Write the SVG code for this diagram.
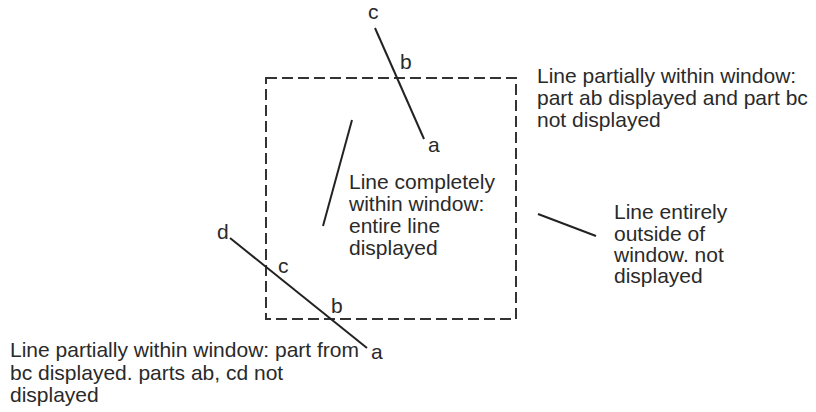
<svg xmlns="http://www.w3.org/2000/svg" width="816" height="412" viewBox="0 0 816 412">
<style>
text{font-family:"Liberation Sans",Arial,sans-serif;font-size:21px;fill:#2a2a2a}
.seg{stroke:#222;stroke-width:2;fill:none}
.win{stroke:#333;stroke-width:2;fill:none;stroke-dasharray:11 5}
</style>
<rect width="816" height="412" fill="#fff"/>
<g id="window"><rect class="win" x="266" y="78" width="250" height="241"/></g>
<g id="connectors">
<line class="seg" x1="375" y1="28" x2="424" y2="139"/>
<line class="seg" x1="352" y1="120" x2="323" y2="226"/>
<line class="seg" x1="230" y1="238" x2="367" y2="348"/>
<line class="seg" x1="538" y1="214" x2="596" y2="236"/>
</g>
<g id="labels">
<text x="368" y="19">c</text>
<text x="400" y="69">b</text>
<text x="428" y="152">a</text>
<text x="217" y="239">d</text>
<text x="278" y="273">c</text>
<text x="331" y="313">b</text>
<text x="371" y="359">a</text>
</g>
<g id="note-top">
<text x="537" y="83">Line partially within window:</text>
<text x="537" y="105">part ab displayed and part bc</text>
<text x="537" y="127">not displayed</text>
</g>
<g id="note-center">
<text x="349" y="189">Line completely</text>
<text x="349" y="211">within window:</text>
<text x="349" y="233">entire line</text>
<text x="349" y="255">displayed</text>
</g>
<g id="note-right">
<text x="614" y="219">Line entirely</text>
<text x="614" y="240.5">outside of</text>
<text x="614" y="262">window. not</text>
<text x="614" y="283">displayed</text>
</g>
<g id="note-bottom">
<text x="10" y="357">Line partially within window: part from</text>
<text x="10" y="379.5">bc displayed. parts ab, cd not</text>
<text x="10" y="402">displayed</text>
</g>
</svg>
